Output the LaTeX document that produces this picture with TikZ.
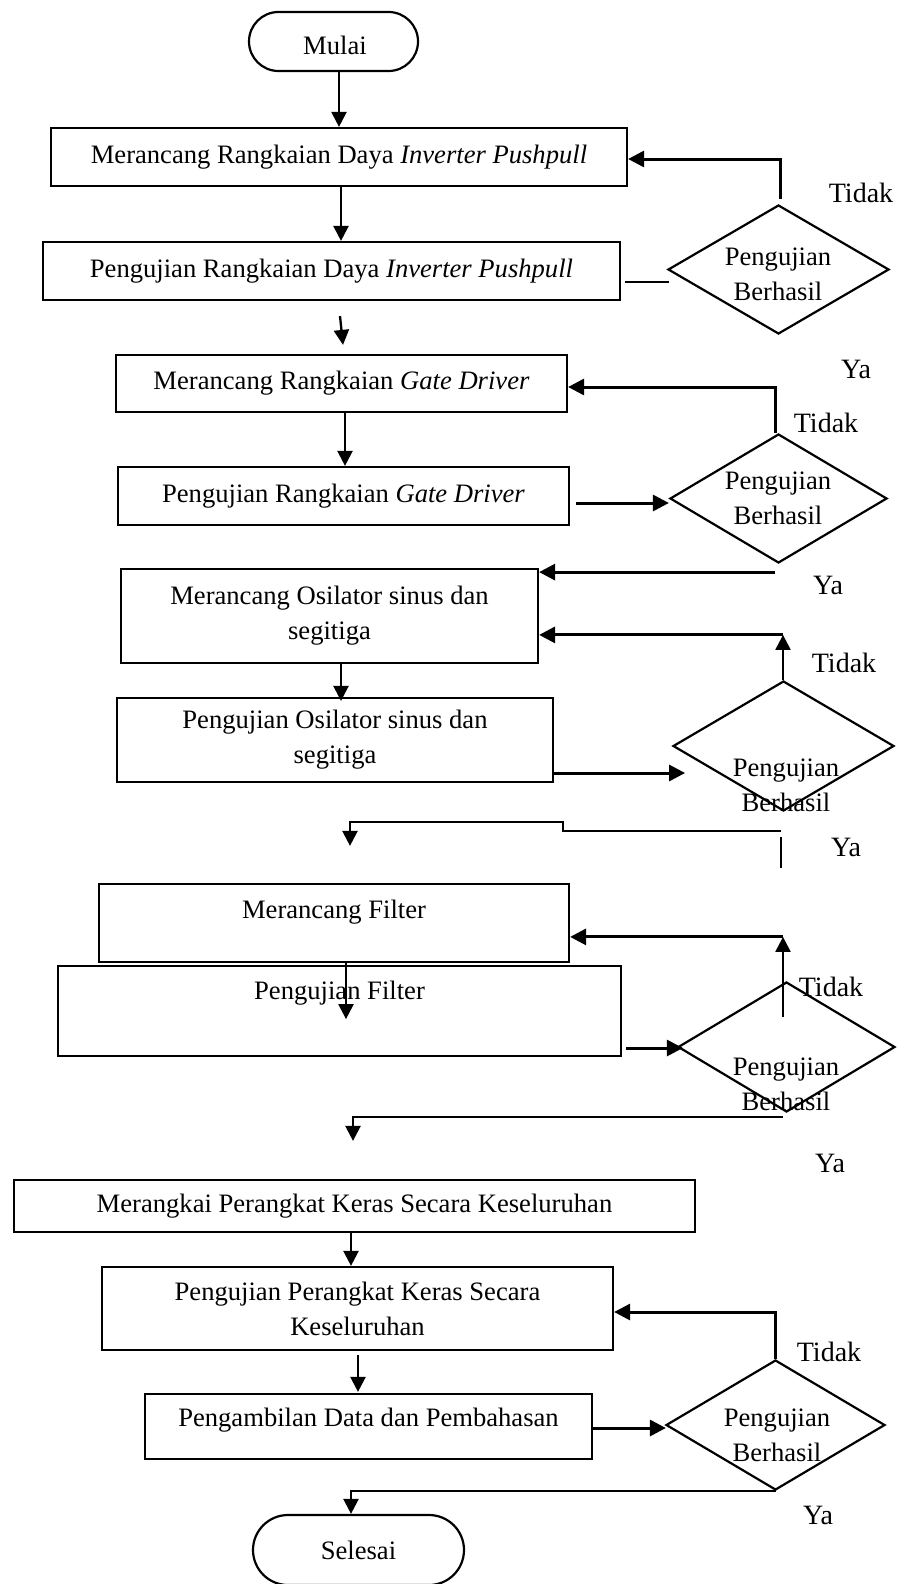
\documentclass[tikz,border=0pt]{standalone}
\usepackage{fontspec}
\setmainfont{Liberation Serif}
\usetikzlibrary{calc,arrows.meta,shapes.geometric,shapes.misc}
\begin{document}
\begin{tikzpicture}[x=1pt,y=-1pt,
  every node/.style={font=\fontsize{26.6pt}{35pt}\selectfont},
  box/.style={draw, line width=2.2pt, rectangle, inner sep=0pt},
  term/.style={draw, line width=2.2pt, rounded rectangle, inner sep=0pt},
  dec/.style={draw, line width=2.2pt, diamond, inner sep=0pt},
  txt/.style={align=center, inner sep=0pt},
  lab/.style={font=\fontsize{28pt}{34pt}\selectfont, inner sep=0pt},
  arr/.style={line width=2.3pt, -{Triangle[length=15pt,width=15pt]}},
  ln/.style={line width=2.3pt},
  harr/.style={line width=3pt, -{Triangle[length=16pt,width=16pt]}},
]
\useasboundingbox (0,0) rectangle (898,1584);

% terminals
\node[term, minimum width=169pt, minimum height=59pt] (start) at (333.5,41.5) {};
\node[txt] (ts) at (335,45) {Mulai};
\node[term, minimum width=211pt, minimum height=70pt] (stop) at (358.5,1550) {Selesai};

% process boxes
\node[box, minimum width=576pt, minimum height=58pt] (b1) at (339,157) {Merancang Rangkaian Daya \textit{Inverter Pushpull}};
\node[box, minimum width=577pt, minimum height=58pt] (b2) at (331.5,271) {Pengujian Rangkaian Daya \textit{Inverter Pushpull}};
\node[box, minimum width=451pt, minimum height=57pt] (b3) at (341.5,383.5) {Merancang Rangkaian \textit{Gate Driver}};
\node[box, minimum width=451pt, minimum height=58pt] (b4) at (343.5,496) {Pengujian Rangkaian \textit{Gate Driver}};
\node[box, minimum width=417pt, minimum height=94pt, align=center] (b5) at (329.5,616) {Merancang Osilator sinus dan\\segitiga};
\node[box, minimum width=436pt, minimum height=84pt, align=center] (b6) at (335,740) {Pengujian Osilator sinus dan\\segitiga};
\node[box, minimum width=470pt, minimum height=78pt] (b7) at (334,923) {};
\node[txt] (t7) at (334,912) {Merancang Filter};
\node[box, minimum width=563pt, minimum height=90pt] (b8) at (339.5,1011) {};
\node[txt] (t8) at (339.5,993) {Pengujian Filter};
\node[box, minimum width=681pt, minimum height=52pt] (b9) at (354.5,1206) {Merangkai Perangkat Keras Secara Keseluruhan};
\node[box, minimum width=511pt, minimum height=83pt, align=center] (b10) at (357.5,1308.5) {Pengujian Perangkat Keras Secara\\Keseluruhan};
\node[box, minimum width=447pt, minimum height=65pt] (b11) at (368.5,1426.5) {};
\node[txt] (t11) at (368.5,1420) {Pengambilan Data dan Pembahasan};

% decisions
\node[dec, minimum width=221pt, minimum height=129pt] (d1) at (778.5,269.5) {};
\node[txt] (dt1) at (778,274) {Pengujian\\Berhasil};
\node[dec, minimum width=217pt, minimum height=129pt] (d2) at (778.5,498.5) {};
\node[txt] (dt2) at (778,498.5) {Pengujian\\Berhasil};
\node[dec, minimum width=221pt, minimum height=130pt] (d3) at (783.5,746) {};
\node[txt] (dt3) at (786,785) {Pengujian\\Berhasil};
\node[dec, minimum width=217pt, minimum height=130pt] (d4) at (786.5,1047) {};
\node[txt] (dt4) at (786,1084.5) {Pengujian\\Berhasil};
\node[dec, minimum width=219pt, minimum height=130pt] (d5) at (775.5,1425) {};
\node[txt] (dt5) at (777,1435) {Pengujian\\Berhasil};

% labels
\node[lab] (l1) at (861,193) {Tidak};
\node[lab] (l2) at (856,369) {Ya};
\node[lab] (l3) at (826,423) {Tidak};
\node[lab] (l4) at (828,585) {Ya};
\node[lab] (l5) at (844,663) {Tidak};
\node[lab] (l6) at (846,847) {Ya};
\node[lab] (l7) at (831,987) {Tidak};
\node[lab] (l8) at (830,1163) {Ya};
\node[lab] (l9) at (829,1352) {Tidak};
\node[lab] (l10) at (818,1515) {Ya};

% connectors
\draw[arr] (b1.north |- start.south) -- (b1.north);
\draw[arr] ($(b1.south)+(2,0)$) -- ($(b2.north)+(9.5,0)$);
\draw[ln] ($(b2.east)+(4,11)$) -- ($(d1.west)+(2,12.5)$);
\draw[harr] ($(d1.north)+(1.5,-5)$) |- ($(b1.east)+(0,2)$);
\draw[arr] ($(b2.south)+(8.5,15)$) -- ($(b3.north)+(1.5,-9)$);
\draw[harr] ($(d2.north)+(-3.5,0)$) |- ($(b3.east)+(0,3.5)$);
\draw[arr] ($(b3.south)+(3.5,-2)$) -- ($(b4.north)+(1.5,0)$);
\draw[harr] ($(b4.east)+(6,7)$) -- ($(d2.west)+(0,4.5)$);
\coordinate (y2) at ($(d2.south)+(-3.5,8)$);
\draw[harr] (y2) -- (y2 -| b5.east);
\coordinate (t3) at ($(d3.north)+(-0.5,-45)$);
\draw[arr] ($(d3.north)+(-0.5,0)$) -- (t3);
\draw[harr] (t3) -- (t3 -| b5.east);
\draw[arr] ($(b5.south)+(11.5,0)$) -- ($(b6.north)+(6,4)$);
\coordinate (o6) at ($(b6.east)+(0,33)$);
\coordinate (e6) at ($(o6)+(131,0)$);
\draw[harr] (o6) -- (e6);
\coordinate (y3) at ($(d3.south)+(-2.5,19)$);
\coordinate (y3e) at ($(b7.north)+(16,-37)$);
\draw[arr] (y3) -- ++(-218,0) -- ++(0,-9) -| (y3e);
\draw[ln] ($(y3)+(0,6)$) -- ++(0,31);
\coordinate (a7) at ($(b7.south)+(12,-1)$);
\coordinate (a7e) at ($(a7)+(0,57)$);
\draw[arr] (a7) -- (a7e);
\coordinate (t4) at ($(d4.north)+(-3.5,-44)$);
\draw[arr] ($(d4.north)+(-3.5,36)$) -- (t4);
\draw[harr] (t4) -- (t4 -| b7.east);
\draw[harr] ($(b8.east)+(4,37)$) -- ($(d4.west)+(6,1)$);
\coordinate (y4) at ($(d4.south)+(-3.5,4)$);
\draw[arr] (y4) -| ($(b9.north)+(-1.5,-38)$);
\draw[arr] ($(b9.south)+(-3.5,0)$) -- ($(b10.north)+(-6.5,0)$);
\draw[harr] (d5.north) |- ($(b10.east)+(0,3.5)$);
\draw[arr] ($(b10.south)+(0.5,4)$) -- ($(b11.north)+(-10.5,-1)$);
\draw[harr] ($(b11.east)+(0,1.5)$) -- ($(d5.west)+(1,3)$);
\draw[arr] (d5.south) -| ($(stop.north)+(-7.5,0)$);
\end{tikzpicture}
\end{document}
